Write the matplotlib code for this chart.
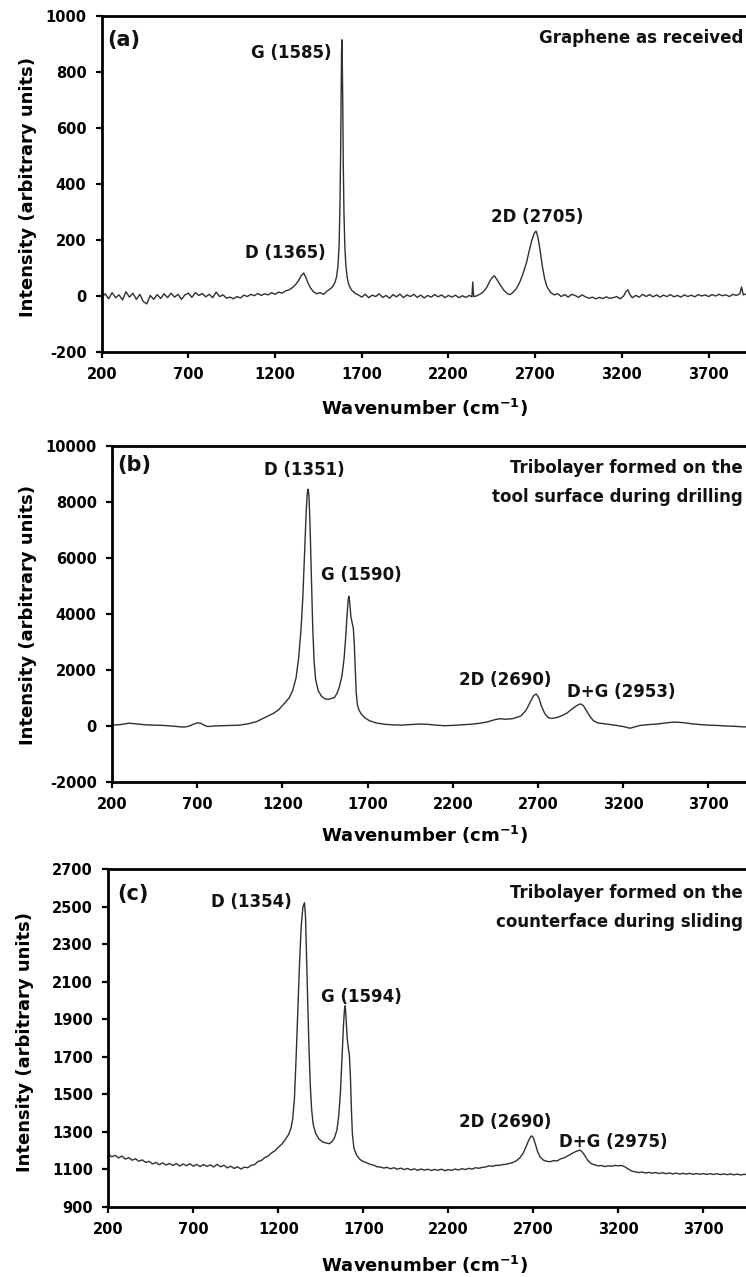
import matplotlib
matplotlib.use("Agg")
import matplotlib.pyplot as plt

# ---------------------------------------------------------------------------
# Raman spectra (wavenumber in cm^-1, intensity in arbitrary units)
# ---------------------------------------------------------------------------

# (a) Graphene as received
wn_a = [
    200, 220, 240, 260, 280, 300, 320, 340, 360, 380, 400, 420, 440, 460, 480,
    500, 520, 540, 560, 580, 600, 620, 640, 660, 680, 700, 720, 740, 760, 780,
    800, 820, 840, 860, 880, 900, 920, 940, 960, 980, 1000, 1020, 1040, 1060,
    1080, 1100, 1120, 1140, 1160, 1180, 1200, 1220, 1240,
    1260, 1280, 1300, 1320, 1335, 1350, 1365, 1378, 1390, 1405, 1420, 1440,
    1460, 1480, 1500, 1515, 1530, 1545, 1555, 1563, 1569, 1574, 1578, 1581,
    1583, 1585, 1587, 1590, 1593, 1597, 1602, 1608, 1616, 1625, 1640, 1660, 1680,
    1700, 1720, 1740, 1760, 1780, 1800, 1820, 1840, 1860, 1880, 1900, 1920,
    1940, 1960, 1980, 2000, 2020, 2040, 2060, 2080, 2100, 2120, 2140, 2160,
    2180, 2200, 2220, 2240, 2260, 2280, 2300, 2320,
    2335, 2340, 2345, 2360, 2380, 2400, 2420, 2440, 2455, 2465, 2480, 2500,
    2520, 2540, 2555, 2570, 2590, 2610, 2630, 2650, 2665, 2680, 2695, 2705,
    2715, 2728, 2740, 2755, 2770, 2790, 2810,
    2830, 2850, 2870, 2890, 2910, 2930, 2950, 2970, 2990, 3010, 3030, 3050,
    3070, 3090, 3110, 3130, 3150, 3170, 3190, 3210, 3225, 3235, 3245, 3260,
    3280, 3300, 3320, 3340, 3360, 3380, 3400, 3420, 3440, 3460, 3480, 3500,
    3520, 3540, 3560, 3580, 3600, 3620, 3640, 3660, 3680, 3700, 3720, 3740,
    3760, 3780, 3800, 3820, 3840, 3860, 3880, 3890, 3900, 3920, 3940, 3960,
    3980, 4000,
]
int_a = [
    -5, 8, -10, 12, -6, 4, -14, 15, -4, 10, -12, 6, -20, -28, 2,
    -12, 5, -9, 8, -6, 10, -4, 6, -12, 4, 10, -5, 12, 2, 9,
    -3, 6, -6, 14, -2, 4, -8, -4, -10, -2, -7, 3, -2, 6,
    1, 9, 2, 8, 4, 12, 6, 14, 10,
    18, 22, 30, 42, 55, 72, 82, 66, 46, 28, 16, 8,
    12, 6, 18, 24, 32, 48, 70, 110, 180, 320, 520, 720,
    860, 915, 870, 700, 480, 300, 180, 110, 65, 40, 22, 10, 4,
    -4, 6, -6, 3, -2, 8, -5, 2, -8, 5, -3, 7,
    -6, 4, -2, 6, -5, 3, -7, 2, -4, 5, -3, 4,
    -6, 2, -4, 3, -6, 1, -5, 2,
    -3, 50, -2, 0, 6, 14, 30, 55, 68, 72, 58, 38,
    20, 8, 5, 12, 25, 48, 80, 120, 160, 198, 225, 232,
    212, 165, 110, 60, 30, 12, 4,
    8, -2, 5, -4, 6, 2, -5, 4, -3, -8, -4, -10,
    -5, -9, -3, -8, -6, -2, -10, 0, 18, 22, 6, -6,
    2, -4, 6, -2, 5, -3, 4, -4, 3, -2, 5, -3,
    2, -4, 4, -2, 3, -3, 5, 0, 4, -2, 5, 0,
    6, 1, 4, -2, 6, 2, 8, 32, 4, 8, 2, 7,
    1, 5,
]

# (b) Tribolayer on the tool surface (drilling)
wn_b = [
    200, 250, 300, 350, 400, 450, 500, 550, 600, 625, 650, 680, 700, 720, 740,
    760, 800, 850, 900, 950, 1000, 1050, 1100, 1150, 1180, 1200, 1220, 1240,
    1260, 1280, 1295, 1310, 1320, 1330, 1340, 1346, 1351, 1356, 1362, 1370,
    1378, 1386, 1395, 1410, 1430, 1450, 1470, 1490, 1505, 1520, 1535, 1550,
    1562, 1572, 1580, 1586, 1590, 1595, 1602, 1610, 1616, 1622, 1628, 1633,
    1640, 1650, 1665, 1685, 1710, 1750, 1800, 1850, 1900, 1950, 2000, 2050,
    2100, 2150, 2200, 2250, 2300, 2350, 2400, 2450, 2480, 2510, 2550, 2600,
    2630, 2655, 2675, 2690, 2705, 2720, 2740, 2760, 2780, 2810, 2840, 2870,
    2900, 2925, 2943, 2953, 2968, 2985, 3005, 3025, 3050, 3100, 3150, 3200,
    3240, 3270, 3300, 3350, 3400, 3450, 3500, 3550, 3600, 3650, 3700, 3750,
    3800, 3850, 3900, 4000,
]
int_b = [
    20, 40, 90, 60, 30, 20, 10, -10, -40, -50, -20, 60, 100, 90, 20,
    -30, -10, 0, 10, 20, 70, 150, 300, 450, 580, 720, 850, 1000,
    1250, 1700, 2400, 3500, 4600, 6200, 7700, 8300, 8450, 8200, 7200, 5300,
    3500, 2300, 1650, 1250, 1050, 960, 940, 980, 1000, 1150, 1400, 1800,
    2400, 3200, 4000, 4500, 4620, 4400, 3900, 3650, 3500, 2900, 2000, 1200,
    750, 550, 400, 280, 180, 100, 50, 30, 20, 40, 60, 50,
    20, 0, 10, 30, 50, 80, 130, 220, 250, 230, 250, 350,
    550, 850, 1080, 1130, 1000, 700, 430, 290, 260, 290, 360, 450,
    600, 710, 765, 775, 700, 530, 330, 180, 100, 60, 20, -30,
    -90, -40, 10, 40, 60, 100, 130, 110, 70, 40, 20, 10,
    -10, -20, -40, -50,
]

# (c) Tribolayer on the counterface (sliding)
wn_c = [
    200, 220, 240, 260, 280, 300, 320, 340, 360, 380, 400, 420, 440, 460, 480,
    500, 520, 540, 560, 580, 600, 620, 640, 660, 680, 700, 720, 740, 760, 780,
    800, 820, 840, 860, 880, 900, 920, 940, 960, 980, 1000, 1020, 1040, 1060,
    1080, 1100, 1120, 1140, 1160, 1180, 1200, 1220, 1240, 1260, 1275, 1285,
    1295, 1305, 1315, 1325, 1335, 1345, 1354, 1360, 1366, 1373, 1380, 1388,
    1396, 1405, 1420, 1440, 1460, 1480, 1500, 1515, 1530, 1545, 1555, 1565,
    1575, 1583, 1589, 1594, 1599, 1605, 1612, 1618, 1624, 1630, 1636, 1645,
    1660, 1680, 1700, 1720, 1740, 1760, 1780, 1800, 1820, 1840, 1860, 1880,
    1900, 1920, 1940, 1960, 1980, 2000, 2020, 2040, 2060, 2080, 2100, 2120,
    2140, 2160, 2180, 2200, 2220, 2240, 2260, 2280, 2300, 2320, 2340, 2360,
    2380, 2400, 2420, 2440, 2460, 2480, 2500, 2520, 2540, 2560, 2580, 2600,
    2620, 2640, 2655, 2670, 2682, 2690, 2700, 2712, 2725, 2740, 2760, 2780,
    2800, 2820, 2840, 2860, 2880, 2900, 2920, 2940, 2960, 2975, 2990, 3005,
    3020, 3040, 3060, 3080, 3100, 3120, 3140, 3160, 3180, 3200, 3220, 3240,
    3260, 3280, 3300, 3320, 3340, 3360, 3380, 3400, 3420, 3440, 3460, 3480,
    3500, 3520, 3540, 3560, 3580, 3600, 3620, 3640, 3660, 3680, 3700, 3720,
    3740, 3760, 3780, 3800, 3820, 3840, 3860, 3880, 3900, 3920, 3940, 3960,
    3980, 4000,
]
int_c = [
    1182, 1166, 1174, 1160, 1170, 1154, 1162, 1148, 1156, 1142, 1150, 1136,
    1142, 1128, 1136, 1124, 1134, 1122, 1131, 1120, 1130, 1117, 1128, 1119,
    1129, 1116, 1126, 1114, 1125, 1115, 1123, 1112, 1126, 1113, 1121, 1107,
    1116, 1104, 1113, 1101, 1111, 1108, 1121, 1124, 1141, 1146, 1162, 1170,
    1187, 1198, 1217, 1233, 1256, 1284, 1320, 1370, 1480, 1700, 1950, 2200,
    2400, 2500, 2522, 2450, 2250, 2000, 1760, 1550, 1420, 1340, 1290, 1260,
    1246, 1240, 1236, 1246, 1266, 1310, 1380, 1500, 1700, 1860, 1950, 1972,
    1900, 1800, 1745, 1712, 1600, 1420, 1285, 1212, 1176, 1152, 1141, 1134,
    1126, 1122, 1113, 1112, 1106, 1110, 1102, 1108, 1100, 1106, 1098, 1104,
    1096, 1102, 1094, 1101, 1095, 1100, 1093, 1099, 1094, 1100, 1092, 1098,
    1094, 1101, 1096, 1103, 1098, 1105, 1100, 1108, 1105, 1110, 1112, 1118,
    1115, 1121, 1120, 1125, 1126, 1131, 1136, 1145, 1160, 1185, 1215, 1248,
    1270, 1278, 1268, 1235, 1195, 1165, 1148, 1142, 1140, 1146, 1144, 1155,
    1160, 1170, 1180, 1190, 1198, 1202, 1190, 1170, 1148, 1130, 1124, 1118,
    1120, 1114, 1118, 1116, 1120, 1118, 1120, 1112, 1100, 1090, 1086, 1082,
    1085, 1080, 1083, 1079, 1082, 1077, 1081, 1076, 1080, 1075, 1079, 1074,
    1078, 1074, 1078, 1073, 1077, 1073, 1077, 1072, 1076, 1072, 1076, 1071,
    1075, 1071, 1075, 1070, 1074, 1069, 1073, 1070, 1073, 1070,
]

x_ticks = [200, 700, 1200, 1700, 2200, 2700, 3200, 3700]
y_ticks_a = [-200, 0, 200, 400, 600, 800, 1000]
y_ticks_b = [-2000, 0, 2000, 4000, 6000, 8000, 10000]
y_ticks_c = [900, 1100, 1300, 1500, 1700, 1900, 2100, 2300, 2500, 2700]

panel_tags = ["(a)", "(b)", "(c)"]
panel_titles = [
    ["Graphene as received"],
    ["Tribolayer formed on the", "tool surface during drilling"],
    ["Tribolayer formed on the", "counterface during sliding"],
]
peak_labels_a = ["G (1585)", "D (1365)", "2D (2705)"]
peak_labels_b = ["D (1351)", "G (1590)", "2D (2690)", "D+G (2953)"]
peak_labels_c = ["D (1354)", "G (1594)", "2D (2690)", "D+G (2975)"]

assert len(wn_a) == len(int_a)
assert len(wn_b) == len(int_b)
assert len(wn_c) == len(int_c)

# ---------------------------------------------------------------------------
W, H = 746, 1277
plt.rcParams["font.family"] = ["DejaVu Sans"]
plt.rcParams["font.weight"] = "bold"
plt.rcParams["mathtext.default"] = "bf"

fig = plt.figure(figsize=(W / 100, H / 100), dpi=100)
fig.patch.set_facecolor("white")


def fx(px):
    return px / W


def fy(py):
    return 1 - py / H


LINE_COLOR = "#303030"
TXT = "#111111"


def make_axes(left, top, bottom, px_per_500):
    right = left + (4000 - 200) / 500 * px_per_500
    return fig.add_axes([fx(left), fy(bottom), fx(right - left), (bottom - top) / H])


axes = [
    make_axes(101.7, 16.0, 352.0, 86.7),
    make_axes(112.0, 445.7, 781.7, 85.2),
    make_axes(108.3, 869.3, 1206.7, 85.0),
]
series = [(wn_a, int_a), (wn_b, int_b), (wn_c, int_c)]
ylims = [(-200, 1000), (-2000, 10000), (900, 2700)]
yticks = [y_ticks_a, y_ticks_b, y_ticks_c]
xlabel_y = [408, 835, 1265]
ylabel_pos = [(28, 187), (28, 615), (25, 1042)]

for ax, (xs, ys), yl, yt, xly, (ylx, yly) in zip(
        axes, series, ylims, yticks, xlabel_y, ylabel_pos):
    ax.plot(xs, ys, color=LINE_COLOR, lw=1.0)
    ax.set_xlim(200, 4000)
    ax.set_ylim(*yl)
    ax.set_xticks(x_ticks)
    ax.set_yticks(yt)
    ax.set_yticklabels([str(v) for v in yt])
    ax.tick_params(axis="both", direction="out", length=4, width=1.6,
                   labelsize=10.5, pad=7, colors="black")
    for lab in ax.get_xticklabels() + ax.get_yticklabels():
        lab.set_fontweight("bold")
    for side in ("left", "bottom", "top"):
        ax.spines[side].set_linewidth(2.0)
        ax.spines[side].set_color("black")
    ax.spines["right"].set_visible(False)
    ax.set_xlabel(r"Wavenumber (cm$^{-1}$)", fontsize=13, fontweight="bold")
    ax.xaxis.set_label_coords(fx(424), fy(xly), transform=fig.transFigure)
    ax.xaxis.label.set_va("center")
    ax.set_ylabel("Intensity (arbitrary units)", fontsize=13, fontweight="bold")
    ax.yaxis.set_label_coords(fx(ylx), fy(yly), transform=fig.transFigure)
    ax.yaxis.label.set_va("center")

# panel tags and sample descriptions
tag_pos = [(107, 40), (117, 465), (117, 894)]
title_rows = [[38], [468, 497], [893, 922]]
for tag, (tx, ty), lines, rows in zip(panel_tags, tag_pos, panel_titles, title_rows):
    fig.text(fx(tx), fy(ty), tag, fontsize=15, fontweight="bold",
             ha="left", va="center", color=TXT)
    for line, ry in zip(lines, rows):
        fig.text(fx(743), fy(ry), line, fontsize=12, fontweight="bold",
                 ha="right", va="center", color=TXT)

# peak annotations
peak_pos = [
    (peak_labels_a, [(291, 53), (285, 253), (537, 217)]),
    (peak_labels_b, [(304, 470), (361, 575), (505, 680), (621, 692)]),
    (peak_labels_c, [(251, 902), (361, 997), (505, 1122), (613, 1142)]),
]
for labels, positions in peak_pos:
    for text, (px, py) in zip(labels, positions):
        fig.text(fx(px), fy(py), text, fontsize=12, fontweight="bold",
                 ha="center", va="center", color=TXT)

fig.savefig("out.png", dpi=100, facecolor="white")
